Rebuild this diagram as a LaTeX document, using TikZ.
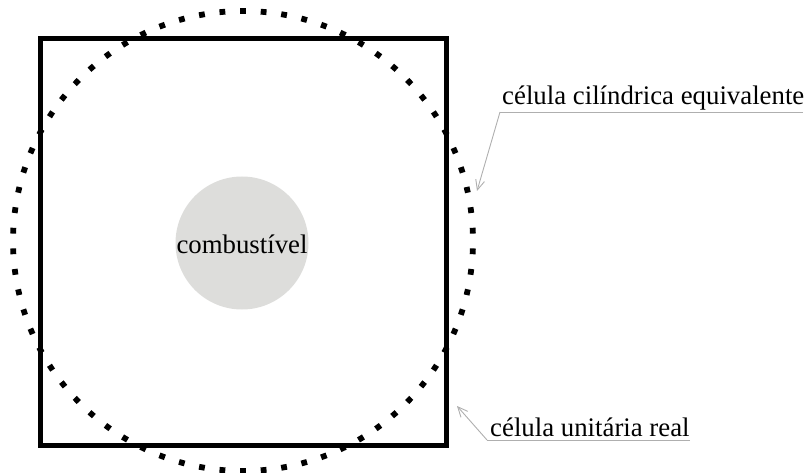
\documentclass[tikz,border=0pt]{standalone}
\usepackage{fontspec}
\setmainfont{Liberation Serif}
\usetikzlibrary{arrows.meta}
\definecolor{fuelgray}{RGB}{221,221,219}
\definecolor{leadergray}{RGB}{175,175,175}
\tikzset{
  dotmark/.style={rectangle,fill=black,inner sep=0pt,minimum size=5.8pt},
  lbl/.style={inner sep=0pt,anchor=base west,font=\fontsize{26.8}{30}\selectfont},
  leader/.style={draw=leadergray,line width=0.9pt,-{Straight Barb[length=10pt,width=9pt]}},
  uline/.style={draw=leadergray,line width=0.9pt}
}
\begin{document}
\begin{tikzpicture}[x=1pt,y=-1pt]
\useasboundingbox (0,0) rectangle (808,473);
% fuel
\node[circle,fill=fuelgray,minimum size=133pt,inner sep=0pt] (fuel) at (242,243) {};
\node[inner sep=0pt,anchor=base,font=\fontsize{26.8}{30}\selectfont] (fuellbl) at (242,253) {combustível};
% square cell
\draw[line width=5pt] (40,39) rectangle (446,445);
\coordinate (sq) at (243,242);
% dotted circle
\coordinate (cc) at (243,241);
\foreach \i in {0,...,69}{
  \pgfmathsetmacro{\a}{-90+\i*(360/70)}
  \node[dotmark,rotate=-\a] (d\i) at ([shift={(\a:230)}]cc) {};
}
% label 1
\node[lbl] (l1) at (502,105) {célula cilíndrica equivalente};
\coordinate (u1s) at (500,112);
\coordinate (u1e) at (803,112);
\coordinate (t1) at (477,191);
\draw[uline] (u1e) -- (u1s);
\draw[leader] (u1s) -- (t1);
% label 2
\node[lbl] (l2) at (490,436) {célula unitária real};
\coordinate (u2s) at (487,440);
\coordinate (u2e) at (690,440);
\coordinate (t2) at (457,406);
\draw[uline] (u2e) -- (u2s);
\draw[leader] (u2s) -- (t2);
\end{tikzpicture}
\end{document}
